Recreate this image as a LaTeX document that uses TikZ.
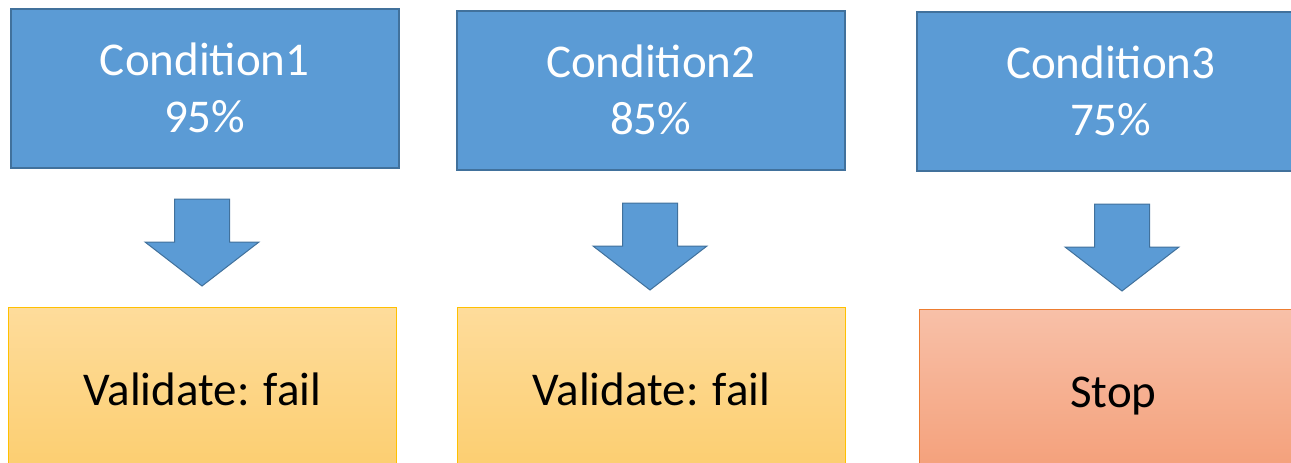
\documentclass[tikz,border=0pt]{standalone}
\usepackage{fontspec}
\setmainfont{Carlito}
\usetikzlibrary{calc}

\definecolor{condfill}{RGB}{91,155,213}
\definecolor{conddraw}{RGB}{65,113,156}
\definecolor{failtop}{RGB}{254,220,155}
\definecolor{failbot}{RGB}{252,206,112}
\definecolor{faildraw}{RGB}{255,192,0}
\definecolor{stoptop}{RGB}{248,192,168}
\definecolor{stopbot}{RGB}{244,160,122}
\definecolor{stopdraw}{RGB}{237,125,49}

\tikzset{
  cond/.style={draw=conddraw, line width=1.5pt, fill=condfill, text=white,
    font=\fontsize{47}{57}\selectfont, align=center, inner sep=0pt,
    minimum width=388pt, minimum height=159pt, anchor=north west},
  result/.style={line width=1pt, font=\fontsize{47}{57}\selectfont,
    inner sep=0pt, text height=33pt, text depth=0pt,
    minimum width=388pt, minimum height=162pt, anchor=north west},
  fail/.style={result, draw=faildraw, top color=failtop, bottom color=failbot},
  stopbox/.style={result, draw=stopdraw, top color=stoptop, bottom color=stopbot},
  blockarrow/.style={draw=conddraw, line width=1pt, fill=condfill, line join=miter},
  downarrow/.pic={
    \path[blockarrow] (-27.5,0) -- (27.5,0) -- (27.5,43) -- (57,43) -- (0,87)
      -- (-57,43) -- (-27.5,43) -- cycle;
  }
}

\begin{document}
\begin{tikzpicture}[x=1pt,y=-1pt]
\useasboundingbox (0,0) rectangle (1291,463);
\clip (0,0) rectangle (1291,463);

% condition boxes
\node[cond] (c1) at (10,8)   {Condition1\\95\%};
\node[cond] (c2) at (456,10) {Condition2\\85\%};
\node[cond] (c3) at (916,11) {Condition3\\75\%};

% outcome boxes
\node[fail]    (v1) at (8,307)   {Validate: fail};
\node[fail]    (v2) at (457,307) {Validate: fail};
\node[stopbox] (s3) at (919,309) {Stop};

% block arrows between each condition and its outcome
\coordinate (a1) at (202,199);
\coordinate (a2) at (650,203);
\coordinate (a3) at (1122,204);
\pic at (a1) {downarrow};
\pic at (a2) {downarrow};
\pic at (a3) {downarrow};
\end{tikzpicture}
\end{document}
